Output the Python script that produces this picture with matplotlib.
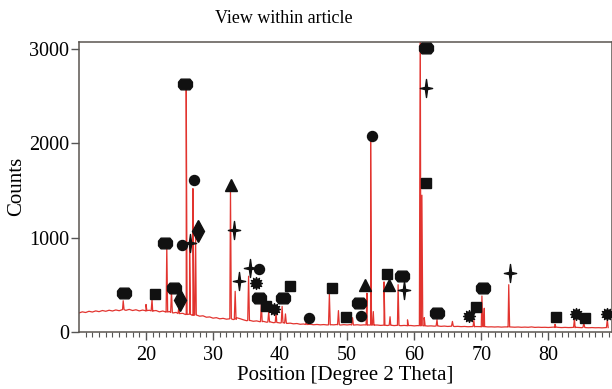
import matplotlib
matplotlib.use('Agg')
import matplotlib.pyplot as plt
from matplotlib.path import Path
import numpy as np

plt.rcParams['font.family'] = ['Liberation Serif', 'DejaVu Serif']

# background trace, 0.5 degree steps from 10 to 90 (counts)
bg_start, bg_step = 10.0, 0.5
bg_counts = [200, 212, 205, 218, 210, 222, 214, 226, 218, 229, 221, 232, 224, 236, 228, 238,
             226, 234, 222, 231, 220, 229, 218, 226, 212, 221, 208, 216, 200, 206, 192, 196,
             184, 188, 176, 180, 166, 170, 155, 158, 145, 150, 138, 143, 134, 140, 130, 150,
             140, 128, 118, 121, 112, 116, 107, 111, 102, 106, 97, 101, 94, 97, 89, 92,
             85, 88, 80, 83, 77, 80, 75, 78, 74, 77, 73, 76, 74, 78, 72, 76, 73, 77, 72, 75,
             71, 74, 70, 73, 69, 72, 68, 71, 67, 70, 66, 69, 65, 68, 64, 67, 63, 66, 62, 64,
             61, 63, 60, 62, 58, 61, 57, 60, 56, 58, 55, 57, 54, 56, 53, 55, 52, 54, 52, 53,
             51, 53, 50, 52, 50, 51, 49, 51, 48, 50, 48, 52, 47, 49, 47, 48, 46, 48, 46, 47,
             45, 47, 45, 46, 44, 46, 44, 45, 43, 45, 43, 44, 42]

# diffraction peaks: position, top, base
peak_pos = [16.6, 20.0, 20.9, 23.1, 23.8, 24.9, 26.0, 26.5, 27.0, 27.4, 32.6, 33.3, 35.3,
            37.2, 38.3, 39.4, 40.3, 40.8, 43.9, 47.35, 48.7, 50.8, 52.95, 53.5, 53.9, 55.5,
            56.4, 57.6, 59.0, 60.9, 61.15, 61.5, 63.4, 65.7, 68.9, 70.1, 70.45, 74.1, 81.0,
            83.9, 85.3, 88.8]
peak_top = [330, 290, 345, 920, 430, 260, 2620, 900, 1520, 1000, 1520, 430, 590,
            300, 215, 200, 270, 190, 100, 400, 225, 150, 410, 2040, 215, 530,
            160, 500, 127, 3400, 1450, 150, 130, 110, 120, 380, 250, 500, 80,
            140, 95, 130]
peak_base = [235, 225, 222, 210, 205, 194, 184, 186, 176, 178, 138, 132, 120,
             108, 104, 99, 96, 92, 78, 74, 75, 72, 73, 72, 72, 70,
             70, 68, 66, 65, 65, 64, 62, 60, 56, 55, 55, 52, 50,
             48, 47, 45]

# phase markers: x, y
octagon_x = [16.7, 22.9, 24.2, 25.8, 36.8, 40.4, 51.7, 58.2, 61.7, 63.4, 70.3]
octagon_y = [417, 947, 463, 2630, 364, 364, 311, 594, 3015, 201, 463]
circle_x = [25.3, 27.1, 36.8, 44.3, 52.1, 53.75]
circle_y = [922, 1612, 665, 145, 173, 2078]
square_x = [21.3, 37.9, 41.5, 47.8, 49.9, 56.0, 61.8, 69.2, 81.1, 85.4]
square_y = [403, 269, 481, 470, 152, 612, 1583, 262, 156, 145]
triangle_x = [32.7, 52.6, 56.3]
triangle_y = [1559, 498, 498]
diamond_x = [25.0, 27.8]
diamond_y = [339, 1074]
star_x = [26.6, 33.1, 33.8, 35.5, 58.5, 61.7, 74.3]
star_y = [940, 1082, 544, 675, 445, 2584, 622]
burst_x = [36.4, 39.1, 68.1, 84.1, 88.8]
burst_y = [516, 240, 163, 191, 191]

# build the trace
pts = [(bg_start + i * bg_step, c) for i, c in enumerate(bg_counts)]
hw = 0.13
for p, t, b in zip(peak_pos, peak_top, peak_base):
    pts += [(p - hw, b), (p, t), (p + hw, b)]
pts.sort()
tx, ty = zip(*pts)

# marker shapes
oct_m = Path([(-0.65, -0.22), (-0.65, 0.22), (-0.42, 0.5), (0.42, 0.5), (0.65, 0.22),
              (0.65, -0.22), (0.42, -0.5), (-0.42, -0.5), (-0.65, -0.22)], closed=True)
star_m = Path([(0, 1), (0.12, 0.12), (0.68, 0), (0.12, -0.12), (0, -1), (-0.12, -0.12),
               (-0.68, 0), (-0.12, 0.12), (0, 1)], closed=True)
ang = np.linspace(0, 2 * np.pi, 25)
rad = np.where(np.arange(25) % 2 == 0, 1.0, 0.62)
burst_m = Path(np.column_stack([rad * np.sin(ang), rad * np.cos(ang)]), closed=True)

fig = plt.figure(figsize=(6.12, 3.89), dpi=100)
ax = fig.add_axes([0.129, 0.147, 0.871, 0.746])
ax.plot(tx, ty, color='#e2342f', lw=0.9, zorder=2)

mk = dict(color='#111111', ls='none', zorder=3, clip_on=False)
ax.plot(octagon_x, octagon_y, marker=oct_m, ms=10, **mk)
ax.plot(circle_x, circle_y, marker='o', ms=7.2, **mk)
ax.plot(square_x, square_y, marker='s', ms=6.5, **mk)
ax.plot(triangle_x, triangle_y, marker='^', ms=8, **mk)
ax.plot(diamond_x, diamond_y, marker='d', ms=11, **mk)
ax.plot(star_x, star_y, marker=star_m, ms=13, **mk)
ax.plot(burst_x, burst_y, marker=burst_m, ms=8.5, **mk)

ax.set_xlim(10, 89.5)
ax.set_ylim(0, 3080)
ax.set_xticks([20, 30, 40, 50, 60, 70, 80])
ax.set_xticks(np.arange(11, 90, 1), minor=True)
ax.set_yticks([0, 1000, 2000, 3000])
ax.tick_params(axis='both', which='major', labelsize=14.5, length=6, width=1, color='#555555')
ax.tick_params(axis='x', which='minor', length=3.5, width=0.8, color='#555555')
ax.tick_params(axis='y', pad=1)
ax.tick_params(axis='x', pad=4)
for s in ax.spines.values():
    s.set_color('#5a5550')
    s.set_linewidth(1.1)

ax.set_xlabel('Position [Degree 2 Theta]', fontsize=15, labelpad=1)
ax.set_ylabel('Counts', fontsize=15, labelpad=2)
fig.text(0.463, 0.953, 'View within article', fontsize=13, ha='center', va='center')

fig.savefig('out.png', dpi=100)
